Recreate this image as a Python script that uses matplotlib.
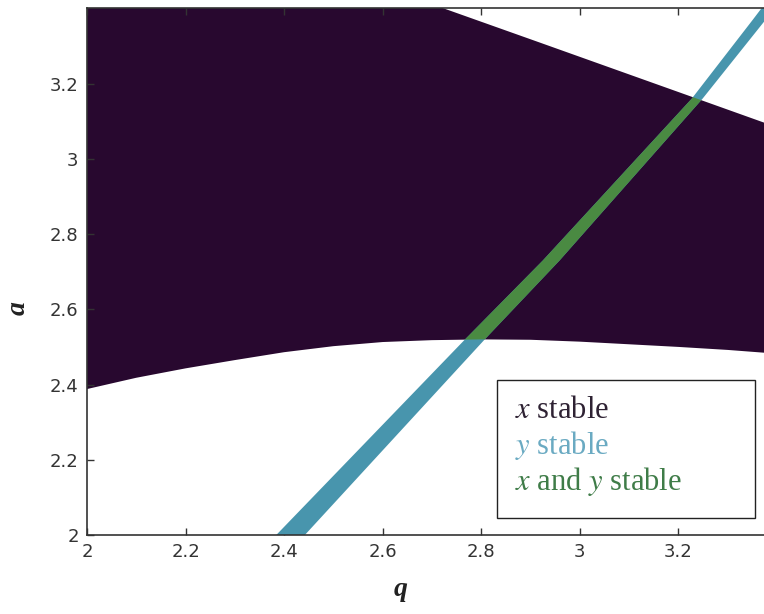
import numpy as np
import matplotlib
matplotlib.use("Agg")
import matplotlib.pyplot as plt
from matplotlib.patches import Rectangle

plt.rcParams['mathtext.fontset'] = 'stix'

# lower edge of the x-stable region (a vs q)
q_low = [2.0, 2.1, 2.2, 2.3, 2.4, 2.5, 2.6, 2.7, 2.8, 2.9, 3.0, 3.1, 3.2, 3.3, 3.4]
a_low = [2.388, 2.418, 2.443, 2.465, 2.486, 2.502, 2.513, 2.518, 2.520, 2.519,
         2.514, 2.507, 2.500, 2.492, 2.482]

# upper edge of the x-stable region
q_up = [2.0, 2.3, 2.5, 2.7, 2.919, 3.227, 3.4]
a_up = [3.70, 3.58, 3.50, 3.411, 3.309, 3.165, 3.084]

# y-stable band: left / right q edge at given a
a_band = [2.00, 2.52, 2.73, 3.16, 3.37, 3.42]
q_band_left = [2.384, 2.767, 2.925, 3.227, 3.351, 3.380]
q_band_right = [2.442, 2.807, 2.959, 3.249, 3.377, 3.407]

x_ticks = [2.0, 2.2, 2.4, 2.6, 2.8, 3.0, 3.2]
x_tick_labels = ['2', '2.2', '2.4', '2.6', '2.8', '3', '3.2']
y_ticks = [2.0, 2.2, 2.4, 2.6, 2.8, 3.0, 3.2]
y_tick_labels = ['2', '2.2', '2.4', '2.6', '2.8', '3', '3.2']

legend_labels = ['$x$ stable', '$y$ stable', '$x$ and $y$ stable']

c_x = '#28082f'
c_y = '#4895ad'
c_xy = '#4a8a42'
legend_colors = ['#2e2233', '#6aaac2', '#3f7c48']
axis_grey = '#333333'
serif = ['Liberation Serif', 'DejaVu Serif']


def draw_regions(ax):
    # x stable: polygon between lower and upper boundary
    poly_q = list(q_low) + list(q_up[::-1])
    poly_a = list(a_low) + list(a_up[::-1])
    dark = ax.fill(poly_q, poly_a, color=c_x, lw=0, zorder=1)[0]

    band_q = list(q_band_left) + list(q_band_right[::-1])
    band_a = list(a_band) + list(a_band[::-1])
    ax.fill(band_q, band_a, color=c_y, lw=0, zorder=2)
    both = ax.fill(band_q, band_a, color=c_xy, lw=0, zorder=3)[0]
    both.set_clip_path(dark)


def draw_legend(ax):
    ax.add_patch(Rectangle((0.594, 0.032), 0.374, 0.262, transform=ax.transAxes,
                           facecolor='white', edgecolor='#222222', lw=1.0,
                           zorder=5))
    ys = [0.237, 0.169, 0.102]
    for lab, col, y in zip(legend_labels, legend_colors, ys):
        ax.text(0.620, y, lab, transform=ax.transAxes, color=col,
                family=serif, fontsize=22,
                ha='left', va='center', zorder=6)


fig = plt.figure(figsize=(7.64, 6.14), dpi=100)
ax = fig.add_axes([87 / 764, 79 / 614, 690 / 764, 527 / 614])

draw_regions(ax)
draw_legend(ax)

ax.set_xlim(2.0, 3.4)
ax.set_ylim(2.0, 3.401)
ax.set_xticks(x_ticks)
ax.set_xticklabels(x_tick_labels)
ax.set_yticks(y_ticks)
ax.set_yticklabels(y_tick_labels)
ax.tick_params(direction='in', length=5, width=1, colors=axis_grey,
               labelsize=13, top=True, right=True, pad=6)
for lab in ax.get_xticklabels() + ax.get_yticklabels():
    lab.set_fontweight('medium')
for sp in ax.spines.values():
    sp.set_color('#333333')
    sp.set_linewidth(1.2)

ax.set_xlabel('q', family=serif, fontsize=20,
              fontweight='bold', style='italic', color='#222222')
ax.set_ylabel('a', family=serif, fontsize=20,
              fontweight='bold', style='italic', color='#222222')
ax.xaxis.set_label_coords(0.455, -0.08)
ax.yaxis.set_label_coords(-0.081, 0.43)

fig.savefig('out.png', dpi=100)
